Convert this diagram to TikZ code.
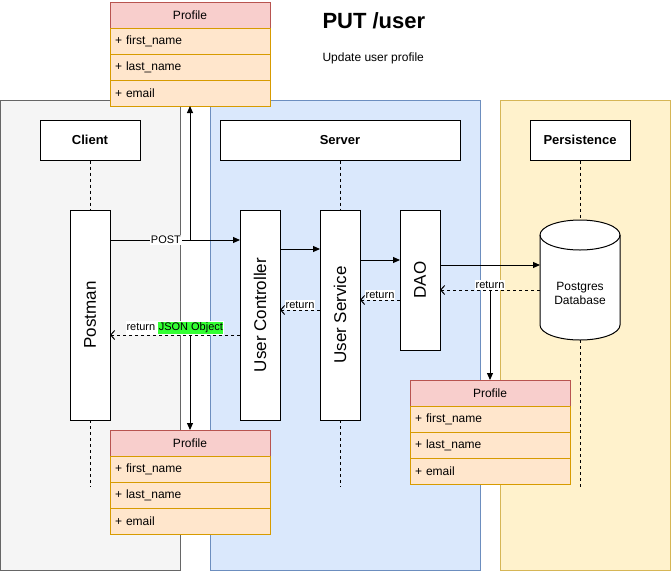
\documentclass[tikz,border=0pt]{standalone}
\usepackage{fontspec}
\setmainfont{Liberation Sans}
\usetikzlibrary{positioning,arrows.meta}

\definecolor{clientbg}{HTML}{F5F5F5}
\definecolor{clientln}{HTML}{666666}
\definecolor{serverbg}{HTML}{DAE8FC}
\definecolor{serverln}{HTML}{6C8EBF}
\definecolor{persistbg}{HTML}{FFF2CC}
\definecolor{persistln}{HTML}{D6B656}
\definecolor{headbg}{HTML}{F8CECC}
\definecolor{headln}{HTML}{B85450}
\definecolor{rowbg}{HTML}{FFE6CC}
\definecolor{rowln}{HTML}{D79B00}
\definecolor{jsongreen}{HTML}{33FF33}

\tikzset{
  lane/.style={draw, anchor=north west, minimum height=470, outer sep=0},
  lanetitle/.style={draw, fill=white, minimum height=40, font=\fontsize{13}{15}\selectfont\bfseries},
  bar/.style={draw, fill=white, minimum width=40, outer sep=0},
  barlabel/.style={rotate=90, font=\fontsize{17}{20}\selectfont},
  profhead/.style={draw=headln, fill=headbg, minimum width=160, minimum height=26, outer sep=0, inner sep=0},
  profrow/.style={draw=rowln, fill=rowbg, minimum width=160, minimum height=26, outer sep=0, text width=150, align=left, inner xsep=5},
  life/.style={dash pattern=on 3pt off 3pt},
  call/.style={-{Triangle[length=7pt,width=6pt]}},
  reply/.style={dash pattern=on 3pt off 3pt, -{Straight Barb[length=4pt,width=9pt]}},
  tag/.style={fill=white, inner sep=1pt, font=\fontsize{11}{13}\selectfont},
}

% one Profile card: name, top left corner
\newcommand{\profilecard}[2]{%
  \node[profhead, anchor=north west] (#1) at (#2) {Profile};
  \node[profrow, below=0pt of #1] (#1first) {+ first\_name};
  \node[profrow, below=0pt of #1first] (#1last) {+ last\_name};
  \node[profrow, below=0pt of #1last] (#1mail) {+ email};
}

\begin{document}
\begin{tikzpicture}[x=1pt, y=-1pt, line width=1pt, font=\fontsize{12}{14}\selectfont]
    \useasboundingbox (0,0) rectangle (671,571);

    % lanes
    \node[lane, fill=clientbg, draw=clientln, minimum width=180] (clientlane) at (0,100) {};
    \node[lane, fill=serverbg, draw=serverln, minimum width=270] (serverlane) at (210,100) {};
    \node[lane, fill=persistbg, draw=persistln, minimum width=170] (persistlane) at (500,100) {};

    \node[lanetitle, minimum width=100] (client) at (90,140) {Client};
    \node[lanetitle, minimum width=240] (server) at (340,140) {Server};
    \node[lanetitle, minimum width=100] (persist) at (580,140) {Persistence};

    \node[anchor=west, inner sep=0, font=\fontsize{22}{26}\selectfont\bfseries] (heading) at (322,21) {PUT /user};
    \node[anchor=west, inner sep=0] (subheading) at (322,58) {Update user profile};

    % activation bars
    \node[bar, minimum height=210, label={[barlabel]center:Postman}] (postman) at (90,315) {};
    \node[bar, minimum height=210, label={[barlabel]center:User Controller}] (ctrl) at (260,315) {};
    \node[bar, minimum height=210, label={[barlabel]center:User Service}] (svc) at (340,315) {};
    \node[bar, minimum height=140, label={[barlabel]center:DAO}] (dao) at (420,280) {};

    % database
    \node[minimum width=80, minimum height=120, inner sep=0, outer sep=0] (db) at (580,280) {};
    \draw[fill=white] ([yshift=-15pt]db.north west) -- ([yshift=15pt]db.south west)
        arc[start angle=180, end angle=0, x radius=40, y radius=15]
        -- ([yshift=-15pt]db.north east)
        arc[start angle=0, end angle=-180, x radius=40, y radius=15] -- cycle;
    \draw ([yshift=-15pt]db.north west) arc[start angle=180, end angle=0, x radius=40, y radius=15];
    \node[align=center, inner sep=0] (dbtext) at (580,293) {Postgres\\Database};

    % lifelines
    \coordinate (clientend) at (90,487);
    \coordinate (serverend) at (340,487);
    \coordinate (persistend) at (580,487);
    \draw[life] (client) -- (postman);
    \draw[life] (postman) -- (clientend);
    \draw[life] (server) -- (svc);
    \draw[life] (svc) -- (serverend);
    \draw[life] (persist.south) -- (db.north);
    \draw[life] (db.south) -- (persistend);

    % profile cards
    \profilecard{ptop}{110,2}
    \profilecard{pbot}{110,430}
    \profilecard{pright}{410,380}

    % calls
    \draw[call] ([yshift=-30pt]postman.north east) -- node[tag, pos=0.43] (post) {POST} ([yshift=-30pt]ctrl.north west);
    \draw[call] ([yshift=-39pt]ctrl.north east) -- ([yshift=-39pt]svc.north west);
    \draw[call] ([yshift=-50pt]svc.north east) -- ([yshift=-50pt]dao.north west);
    \draw[call] ([yshift=-55pt]dao.north east) -- ([yshift=15pt]db.west);

    % replies
    \draw[reply] ([yshift=-10pt]db.west) -- node[tag, above] (dbret) {return} ([yshift=-80pt]dao.north east);
    \draw[reply] ([yshift=-90pt]dao.north west) -- node[tag, above] (daoret) {return} ([yshift=-90pt]svc.north east);
    \draw[reply] ([yshift=-100pt]svc.north west) -- node[tag, above] (svcret) {return} ([yshift=-100pt]ctrl.north east);
    \draw[reply] ([yshift=-125pt]ctrl.north west) -- node[tag, above] (ctrlret)
        {return {\setlength{\fboxsep}{0.5pt}\colorbox{jsongreen}{JSON Object}}} ([yshift=-125pt]postman.north east);

    % data handed over
    \coordinate (postfork) at (190,240);
    \coordinate (retfork) at (190,335);
    \coordinate (dbfork) at (490,290);
    \draw[call] (postfork) -- (ptopmail.south);
    \draw[call] (retfork) -- (pbot.north);
    \draw[call] (dbfork) -- (pright.north);

\end{tikzpicture}
\end{document}
